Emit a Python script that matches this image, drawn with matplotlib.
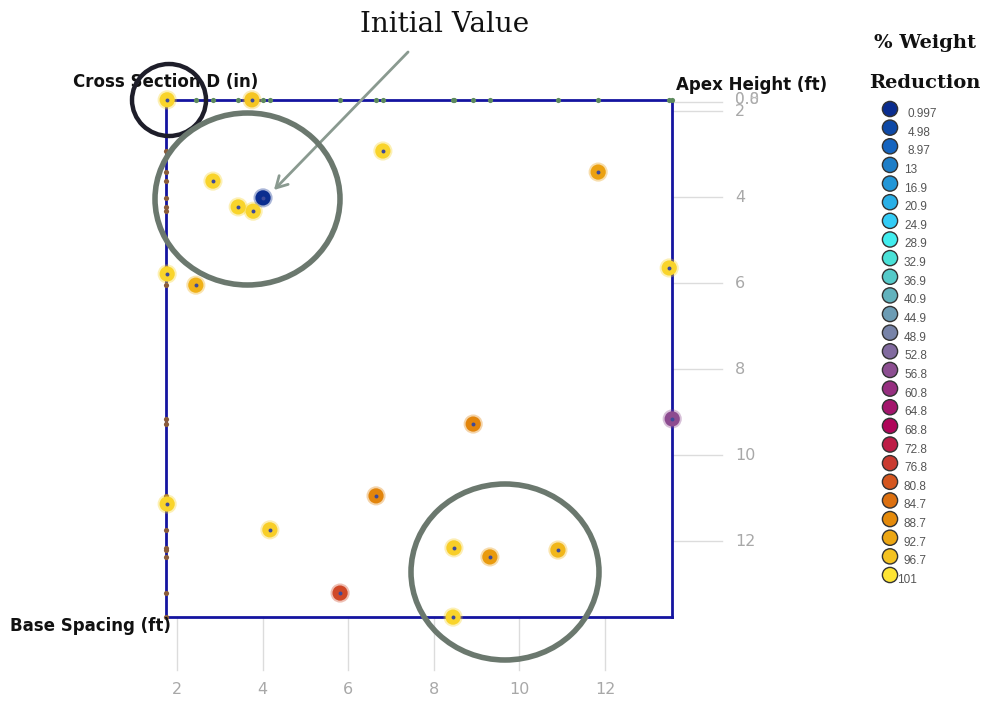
import matplotlib
matplotlib.use("Agg")
import matplotlib.pyplot as plt
import numpy as np
from matplotlib.colors import LinearSegmentedColormap, Normalize
from matplotlib.patches import Ellipse
from matplotlib.transforms import blended_transform_factory

# ---- data ----
base_spacing = [1.77, 3.75, 2.84, 3.43, 3.78, 4.01, 6.81, 11.84, 13.50, 1.77, 2.44,
                8.92, 13.57, 1.77, 4.17, 6.65, 5.81, 8.47, 9.31, 10.90, 8.45]
apex_height = [1.74, 1.74, 3.63, 4.23, 4.33, 4.02, 2.93, 3.42, 5.65, 5.79, 6.05,
               9.28, 9.16, 11.14, 11.74, 10.95, 13.21, 12.16, 12.37, 12.21, 13.77]
weight_reduction = [99, 97, 99, 99, 99, 0.997, 99, 92, 99, 99, 94,
                    88, 57, 99, 98, 88, 79, 98, 91, 95, 99]

x_ticks = [2, 4, 6, 8, 10, 12]
y_ticks = [2, 4, 6, 8, 10, 12]
top_overlap_labels = ["0.0", "0.8"]

legend_levels = [0.997, 4.98, 8.97, 13, 16.9, 20.9, 24.9, 28.9, 32.9, 36.9, 40.9,
                 44.9, 48.9, 52.8, 56.8, 60.8, 64.8, 68.8, 72.8, 76.8, 80.8,
                 84.7, 88.7, 92.7, 96.7, 101]
legend_colors = ["#0a2d8f", "#0e4aa6", "#1565c0", "#1f80c9", "#2298d8", "#2ab2e8",
                 "#33cdf6", "#42eeee", "#49e0d6", "#56c8c8", "#62b2bd", "#6c9cb4",
                 "#7782a8", "#82689e", "#8d4c90", "#962f80", "#a3146c", "#b00558",
                 "#be1f45", "#c93a30", "#d4561f", "#dc7110", "#e48b0b", "#eda813",
                 "#f5c422", "#fde434"]

cmap = LinearSegmentedColormap.from_list(
    "wr", list(zip(np.linspace(0, 1, len(legend_colors)), legend_colors)))
norm = Normalize(vmin=min(legend_levels), vmax=max(legend_levels))

W, H = 987, 701
fig = plt.figure(figsize=(W / 100, H / 100), dpi=100)
fig.patch.set_facecolor("white")

# plot box in pixels
L, R, T, B = 166, 672, 100, 617
ax = fig.add_axes([L / W, 1 - B / H, (R - L) / W, (B - T) / H])
ax.set_xlim(1.743, 13.565)
ax.set_ylim(13.767, 1.744)
ax.set_xticks([])
ax.set_yticks([])
for s in ax.spines.values():
    s.set_color("#1414a0")
    s.set_linewidth(2.0)
    s.set_zorder(3)

grid_c = "#dcdcdc"
tx = blended_transform_factory(ax.transData, ax.transAxes)
ty = blended_transform_factory(ax.transAxes, ax.transData)
for v in x_ticks:
    ax.plot([v, v], [0, -(670 - B) / (B - T)], transform=tx, color=grid_c, lw=1, clip_on=False, zorder=0)
    ax.text(v, -(690 - B) / (B - T), str(v), transform=tx, ha="center", va="center",
            fontsize=11.5, color="#a8a8a8", family="DejaVu Sans")
for v in y_ticks:
    ax.plot([1, 1 + (722 - R) / (R - L)], [v, v], transform=ty, color=grid_c, lw=1, clip_on=False, zorder=0)
    ax.text(1 + (735 - R) / (R - L), v, str(v), transform=ty, ha="left", va="center",
            fontsize=11.5, color="#a8a8a8", family="DejaVu Sans")
ytop = ax.get_ylim()[1] + 0.04
ax.plot([1, 1 + (722 - R) / (R - L)], [ytop, ytop], transform=ty, color=grid_c, lw=1, clip_on=False, zorder=0)
for lab in top_overlap_labels:
    ax.text(1 + (735 - R) / (R - L), ytop - 0.05, lab, transform=ty, ha="left", va="center",
            fontsize=11, color="#a8a8a8", alpha=0.8, family="DejaVu Sans")

# marginal rug marks on the top and left edges
ax.scatter(base_spacing, [1.0] * len(base_spacing), transform=tx, s=14, color="#5d8a5d",
           zorder=4, clip_on=False, linewidths=0)
ax.scatter([0.0] * len(apex_height), apex_height, transform=ty, s=14, color="#8a5c3a",
           zorder=4, clip_on=False, linewidths=0)

# design points
cols = cmap(norm(weight_reduction))
ax.scatter(base_spacing, apex_height, s=190, color=cols, alpha=0.35, linewidths=0,
           zorder=5, clip_on=False)
ax.scatter(base_spacing, apex_height, s=120, color=cols, linewidths=0, zorder=6, clip_on=False)
ax.scatter(base_spacing, apex_height, s=8, color="#3d4a9a", linewidths=0, zorder=7, clip_on=False)

# overlay in pixel coordinates for titles, legend and callouts
ov = fig.add_axes([0, 0, 1, 1], facecolor="none")
ov.set_xlim(0, W)
ov.set_ylim(H, 0)
ov.axis("off")

ov.text(73, 82, "Cross Section D (in)", fontsize=12, fontweight="bold", ha="left",
        va="center", family="DejaVu Sans", color="#111111")
ov.text(676, 85, "Apex Height (ft)", fontsize=12, fontweight="bold", ha="left",
        va="center", family="DejaVu Sans", color="#111111")
ov.text(10, 626, "Base Spacing (ft)", fontsize=12, fontweight="bold", ha="left",
        va="center", family="DejaVu Sans", color="#111111")

ov.text(925, 43, "% Weight", fontsize=14, fontweight="bold", ha="center", va="center",
        family="DejaVu Serif", color="#111111")
ov.text(925, 83, "Reduction", fontsize=14, fontweight="bold", ha="center", va="center",
        family="DejaVu Serif", color="#111111")

ly = np.linspace(109, 575, len(legend_levels))
ov.scatter([890] * len(legend_levels), ly, s=120, c=legend_levels, cmap=cmap, norm=norm,
           edgecolors="#333333", linewidths=1.0, zorder=5)
for i, (lv, yy) in enumerate(zip(legend_levels, ly)):
    xx = 908 if i < 3 else (897 if i == len(legend_levels) - 1 else 904)
    ov.text(xx, yy + 5, f"{lv:g}", fontsize=8.5, ha="left", va="center",
            family="Liberation Sans", color="#555555")

ov.text(445, 25, "Initial Value", fontsize=20, ha="center", va="center",
        family="DejaVu Serif", color="#111111")
ov.annotate("", xy=(272, 192), xytext=(410, 50),
            arrowprops=dict(arrowstyle="->,head_length=0.8,head_width=0.45",
                            color="#8a9a90", lw=2))

ov.add_patch(Ellipse((169, 100), 74, 72, fill=False, ec="#1e1e2a", lw=3.2, zorder=8))
ov.add_patch(Ellipse((247.5, 199), 185, 172, fill=False, ec="#6b786e", lw=4, zorder=8))
ov.add_patch(Ellipse((505, 572), 188, 176, fill=False, ec="#6b786e", lw=4, zorder=8))

fig.savefig("out.png", dpi=100)
